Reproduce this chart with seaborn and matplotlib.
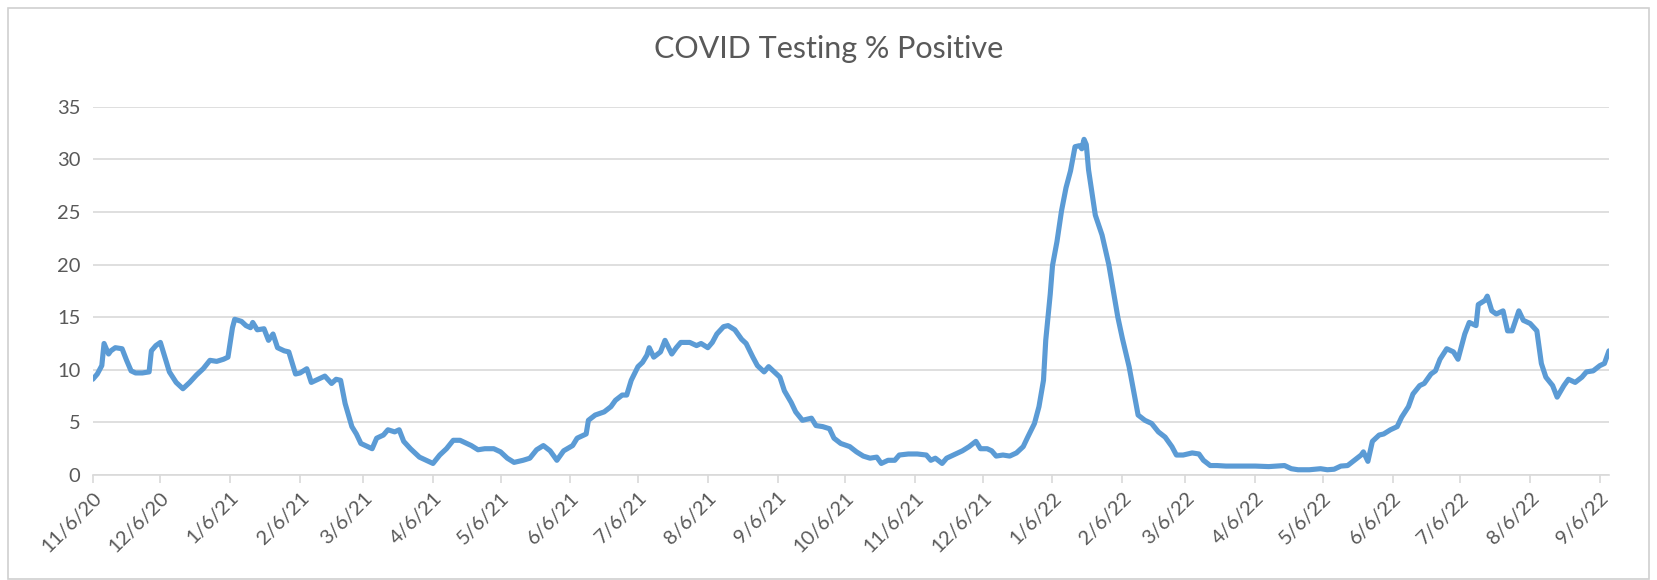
import pandas as pd
import matplotlib.pyplot as plt
import matplotlib.patches as mpatches
import seaborn as sns

# Valeurs (date, % positif)
dates = [
    "11/6/20", "11/8/20", "11/10/20", "11/11/20", "11/13/20", "11/14/20", "11/16/20", "11/19/20",
    "11/21/20", "11/23/20", "11/25/20", "11/28/20", "12/1/20", "12/2/20", "12/4/20", "12/6/20",
    "12/8/20", "12/10/20", "12/13/20", "12/16/20", "12/19/20", "12/22/20", "12/25/20", "12/28/20",
    "12/31/20", "1/3/21", "1/5/21", "1/7/21", "1/8/21", "1/11/21", "1/13/21", "1/15/21",
    "1/16/21", "1/18/21", "1/21/21", "1/23/21", "1/25/21", "1/27/21", "1/30/21", "2/1/21",
    "2/4/21", "2/6/21", "2/9/21", "2/11/21", "2/14/21", "2/17/21", "2/20/21", "2/22/21",
    "2/24/21", "2/26/21", "3/1/21", "3/3/21", "3/5/21", "3/8/21", "3/10/21", "3/12/21",
    "3/15/21", "3/17/21", "3/20/21", "3/22/21", "3/24/21", "3/27/21", "3/31/21", "4/3/21",
    "4/6/21", "4/9/21", "4/12/21", "4/15/21", "4/18/21", "4/21/21", "4/23/21", "4/26/21",
    "4/29/21", "5/3/21", "5/6/21", "5/9/21", "5/12/21", "5/16/21", "5/19/21", "5/22/21",
    "5/25/21", "5/28/21", "5/31/21", "6/3/21", "6/7/21", "6/9/21", "6/13/21", "6/14/21",
    "6/17/21", "6/21/21", "6/24/21", "6/26/21", "6/29/21", "7/1/21", "7/3/21", "7/6/21",
    "7/8/21", "7/10/21", "7/11/21", "7/13/21", "7/16/21", "7/18/21", "7/21/21", "7/23/21",
    "7/25/21", "7/29/21", "8/1/21", "8/3/21", "8/6/21", "8/8/21", "8/10/21", "8/13/21",
    "8/15/21", "8/18/21", "8/21/21", "8/23/21", "8/26/21", "8/28/21", "8/31/21", "9/2/21",
    "9/4/21", "9/7/21", "9/9/21", "9/12/21", "9/14/21", "9/17/21", "9/21/21", "9/23/21",
    "9/26/21", "9/29/21", "10/1/21", "10/4/21", "10/8/21", "10/11/21", "10/14/21", "10/17/21",
    "10/20/21", "10/22/21", "10/25/21", "10/28/21", "10/30/21", "11/3/21", "11/7/21", "11/11/21",
    "11/13/21", "11/15/21", "11/18/21", "11/20/21", "11/23/21", "11/27/21", "11/30/21", "12/3/21",
    "12/5/21", "12/8/21", "12/10/21", "12/12/21", "12/15/21", "12/18/21", "12/21/21", "12/24/21",
    "12/26/21", "12/29/21", "12/31/21", "1/2/22", "1/3/22", "1/5/22", "1/6/22", "1/8/22",
    "1/10/22", "1/12/22", "1/14/22", "1/16/22", "1/18/22", "1/19/22", "1/20/22", "1/21/22",
    "1/22/22", "1/25/22", "1/28/22", "1/31/22", "2/4/22", "2/6/22", "2/9/22", "2/11/22",
    "2/13/22", "2/16/22", "2/19/22", "2/22/22", "2/25/22", "2/28/22", "3/2/22", "3/5/22",
    "3/9/22", "3/12/22", "3/14/22", "3/17/22", "3/20/22", "3/24/22", "3/31/22", "4/6/22",
    "4/12/22", "4/19/22", "4/22/22", "4/25/22", "4/30/22", "5/5/22", "5/8/22", "5/11/22",
    "5/14/22", "5/17/22", "5/20/22", "5/23/22", "5/24/22", "5/26/22", "5/28/22", "5/31/22",
    "6/2/22", "6/5/22", "6/8/22", "6/10/22", "6/13/22", "6/15/22", "6/18/22", "6/20/22",
    "6/23/22", "6/25/22", "6/27/22", "6/30/22", "7/3/22", "7/5/22", "7/8/22", "7/10/22",
    "7/13/22", "7/14/22", "7/17/22", "7/18/22", "7/20/22", "7/22/22", "7/25/22", "7/27/22",
    "7/29/22", "8/1/22", "8/3/22", "8/6/22", "8/9/22", "8/11/22", "8/13/22", "8/16/22",
    "8/18/22", "8/21/22", "8/23/22", "8/26/22", "8/29/22", "8/31/22", "9/3/22", "9/6/22",
    "9/8/22", "9/10/22",
]
pct_positive = [
    9.1, 9.6, 10.4, 12.5, 11.5, 11.8, 12.1, 12.0,
    10.9, 9.9, 9.7, 9.7, 9.8, 11.8, 12.3, 12.6,
    11.2, 9.8, 8.8, 8.2, 8.8, 9.5, 10.1, 10.9,
    10.8, 11.0, 11.2, 14.0, 14.8, 14.6, 14.2, 14.0,
    14.5, 13.8, 13.9, 12.8, 13.4, 12.1, 11.8, 11.7,
    9.6, 9.7, 10.1, 8.8, 9.1, 9.4, 8.7, 9.1,
    9.0, 6.8, 4.6, 3.9, 3.0, 2.7, 2.5, 3.5,
    3.8, 4.3, 4.1, 4.3, 3.2, 2.5, 1.7, 1.4,
    1.1, 1.9, 2.5, 3.3, 3.3, 3.0, 2.8, 2.4,
    2.5, 2.5, 2.2, 1.6, 1.2, 1.4, 1.6, 2.4,
    2.8, 2.3, 1.4, 2.3, 2.8, 3.5, 3.9, 5.2,
    5.7, 6.0, 6.5, 7.1, 7.6, 7.6, 9.0, 10.3,
    10.7, 11.4, 12.1, 11.2, 11.7, 12.8, 11.5, 12.1,
    12.6, 12.6, 12.3, 12.5, 12.1, 12.6, 13.4, 14.1,
    14.2, 13.8, 12.9, 12.5, 11.2, 10.4, 9.8, 10.3,
    9.9, 9.3, 8.0, 6.9, 6.0, 5.2, 5.4, 4.7,
    4.6, 4.4, 3.5, 3.0, 2.7, 2.2, 1.8, 1.6,
    1.7, 1.1, 1.4, 1.4, 1.9, 2.0, 2.0, 1.9,
    1.4, 1.6, 1.1, 1.6, 1.9, 2.3, 2.7, 3.2,
    2.5, 2.5, 2.3, 1.8, 1.9, 1.8, 2.1, 2.7,
    3.6, 4.9, 6.5, 9.0, 12.8, 17.2, 19.9, 22.2,
    25.1, 27.3, 28.9, 31.2, 31.3, 31.0, 31.9, 31.4,
    29.0, 24.7, 22.8, 20.0, 15.0, 13.0, 10.3, 8.0,
    5.7, 5.2, 4.9, 4.1, 3.6, 2.7, 1.9, 1.9,
    2.1, 2.0, 1.4, 0.9, 0.9, 0.85, 0.85, 0.85,
    0.8, 0.9, 0.6, 0.5, 0.5, 0.6, 0.5, 0.55,
    0.85, 0.9, 1.4, 1.9, 2.2, 1.3, 3.2, 3.8,
    3.9, 4.3, 4.6, 5.5, 6.5, 7.7, 8.5, 8.7,
    9.6, 9.9, 11.0, 12.0, 11.7, 11.0, 13.4, 14.5,
    14.2, 16.2, 16.6, 17.0, 15.6, 15.3, 15.6, 13.7,
    13.7, 15.6, 14.7, 14.4, 13.7, 10.6, 9.3, 8.5,
    7.4, 8.5, 9.1, 8.8, 9.3, 9.8, 9.9, 10.4,
    10.6, 11.8,
]

# Graduations de l'axe des dates
tick_labels = [
    "11/6/20", "12/6/20", "1/6/21", "2/6/21", "3/6/21", "4/6/21", "5/6/21", "6/6/21",
    "7/6/21", "8/6/21", "9/6/21", "10/6/21", "11/6/21", "12/6/21", "1/6/22", "2/6/22",
    "3/6/22", "4/6/22", "5/6/22", "6/6/22", "7/6/22", "8/6/22", "9/6/22",
]
y_ticks = [0, 5, 10, 15, 20, 25, 30, 35]

df = pd.DataFrame({"date": pd.to_datetime(dates, format="%m/%d/%y"), "pct": pct_positive})
ticks = pd.to_datetime(tick_labels, format="%m/%d/%y")

sns.set_theme(style="white")
plt.rcParams["font.family"] = ["Lato", "DejaVu Sans"]

text_grey = "#595959"
grid_grey = "#D9D9D9"

fig = plt.figure(figsize=(16.57, 5.8), dpi=100)
ax = fig.add_axes([0.056, 0.181, 0.915, 0.635])

sns.lineplot(data=df, x="date", y="pct", ax=ax, color="#5B9BD5", linewidth=3.7)

ax.set_xlim(df["date"].min(), df["date"].max())
ax.set_ylim(0, 35)
ax.set_yticks(y_ticks)
ax.set_xticks(ticks)
ax.set_xticklabels(tick_labels, rotation=45, ha="right", rotation_mode="anchor")
ax.set_xlabel("")
ax.set_ylabel("")

ax.grid(axis="y", color=grid_grey, linewidth=1.2)
ax.set_axisbelow(True)
for side in ["top", "right", "left"]:
    ax.spines[side].set_visible(False)
ax.spines["bottom"].set_color(grid_grey)
ax.spines["bottom"].set_linewidth(1.2)

ax.tick_params(axis="x", colors=text_grey, labelsize=14.5, length=6, width=1.2,
               color=grid_grey, direction="out", pad=4, bottom=True)
ax.tick_params(axis="y", colors=text_grey, labelsize=14.5, length=0, pad=9)

fig.suptitle("COVID Testing % Positive", x=0.5, y=0.94, fontsize=22, color=text_grey)

# Cadre de la zone de graphique
fig.patches.append(mpatches.Rectangle((0.005, 0.002), 0.99, 0.985, transform=fig.transFigure,
                                      fill=False, edgecolor="#D0D0D0", linewidth=1.2))

plt.savefig("out.png", dpi=100)
plt.close()
